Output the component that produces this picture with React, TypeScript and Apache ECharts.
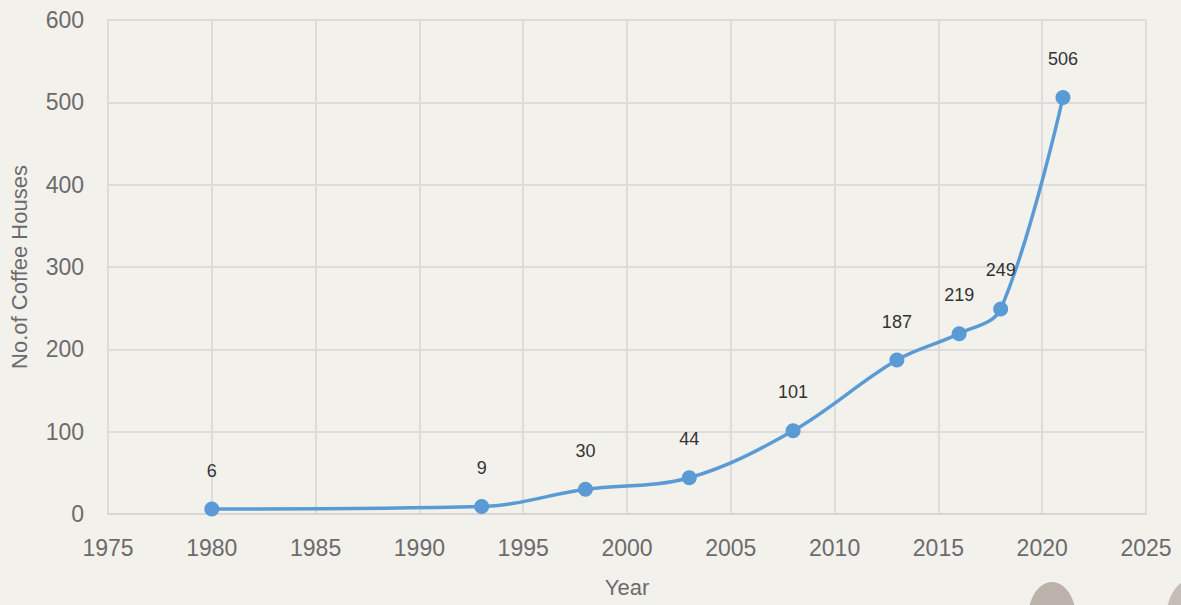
import React, { useEffect, useRef } from "react";
import * as echarts from "echarts";

const years = [1980, 1993, 1998, 2003, 2008, 2013, 2016, 2018, 2021];
const coffeeHouses = [6, 9, 30, 44, 101, 187, 219, 249, 506];
const xTicks = [1975, 2025, 5];
const yTicks = [0, 600, 100];

export default function App() {
  const ref = useRef<HTMLDivElement>(null);
  useEffect(() => {
    if (!ref.current) return;
    const chart = echarts.init(ref.current, undefined, { renderer: "svg" });
    const font = "'Liberation Sans', Arial, sans-serif";
    chart.setOption({
      animation: false,
      backgroundColor: "#f3f1ec",
      graphic: [
        {
          type: "ellipse",
          shape: { cx: 1052, cy: 618, rx: 24, ry: 36 },
          style: { fill: "#a99b96", opacity: 0.75 },
          silent: true,
        },
        {
          type: "ellipse",
          shape: { cx: 1190, cy: 620, rx: 24, ry: 40 },
          style: { fill: "#b3a6a1", opacity: 0.7 },
          silent: true,
        },
      ],
      grid: { left: 107, right: 35, top: 20, bottom: 91 },
      xAxis: {
        type: "value",
        min: xTicks[0],
        max: xTicks[1],
        interval: xTicks[2],
        name: "Year",
        nameLocation: "middle",
        nameGap: 62,
        nameTextStyle: { color: "#6b6b6b", fontSize: 22, fontFamily: font },
        axisLine: { show: true, lineStyle: { color: "#d6d6d6", width: 2 } },
        axisTick: { show: false },
        axisLabel: {
          color: "#6b6b6b",
          fontSize: 23,
          fontFamily: font,
          margin: 22,
          formatter: (v: number) => String(v),
        },
        splitLine: { show: true, lineStyle: { color: "#dcdcdc", width: 2 } },
      },
      yAxis: {
        type: "value",
        min: yTicks[0],
        max: yTicks[1],
        interval: yTicks[2],
        name: "No.of Coffee Houses",
        nameLocation: "middle",
        nameGap: 78,
        nameTextStyle: { color: "#6b6b6b", fontSize: 22, fontFamily: font },
        axisLine: { show: true, lineStyle: { color: "#dcdcdc", width: 2 } },
        axisTick: { show: false },
        axisLabel: { color: "#6b6b6b", fontSize: 23, fontFamily: font, margin: 24 },
        splitLine: { show: true, lineStyle: { color: "#dcdcdc", width: 2 } },
      },
      series: [
        {
          type: "line",
          data: years.map((y, i) => [y, coffeeHouses[i]]),
          smooth: 0.35,
          symbol: "circle",
          symbolSize: 15,
          lineStyle: { color: "#5b9bd5", width: 3.5 },
          itemStyle: { color: "#5b9bd5" },
          label: {
            show: true,
            position: "top",
            distance: 22,
            color: "#333333",
            fontSize: 18,
            fontFamily: font,
          },
        },
      ],
    });
    return () => chart.dispose();
  }, []);
  return (
    <div
      ref={ref}
      style={{ position: "fixed", left: 0, top: 0, width: 1181, height: 605 }}
    />
  );
}
